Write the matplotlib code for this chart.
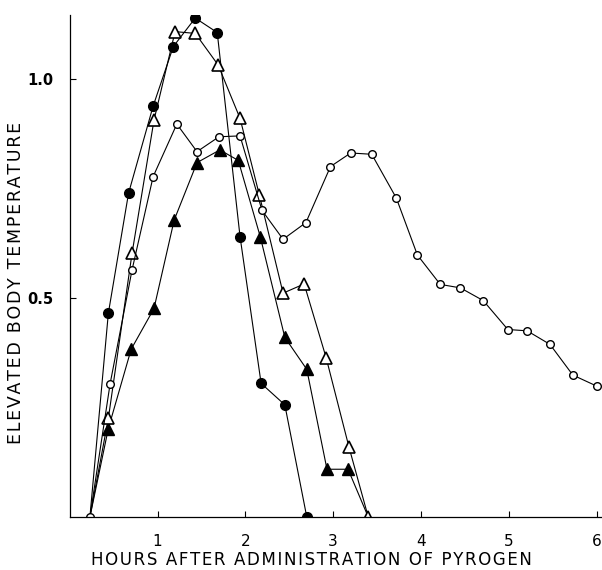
import matplotlib
matplotlib.use("Agg")
import matplotlib.pyplot as plt

# readings (hours, elevated temperature)
fc_x = [0.23, 0.44, 0.67, 0.95, 1.18, 1.43, 1.68, 1.94, 2.18, 2.45, 2.70]
fc_y = [0.0, 0.465, 0.739, 0.938, 1.074, 1.139, 1.106, 0.640, 0.305, 0.256, 0.0]

ot_x = [0.23, 0.44, 0.71, 0.96, 1.20, 1.43, 1.69, 1.94, 2.16, 2.43, 2.67, 2.92, 3.18, 3.40]
ot_y = [0.0, 0.225, 0.602, 0.906, 1.108, 1.104, 1.032, 0.910, 0.735, 0.511, 0.532, 0.364, 0.160, 0.0]

oc_x = [0.23, 0.46, 0.71, 0.95, 1.22, 1.45, 1.70, 1.94, 2.19, 2.43, 2.69, 2.97, 3.20, 3.44,
        3.72, 3.96, 4.22, 4.45, 4.71, 4.99, 5.21, 5.47, 5.73, 6.00]
oc_y = [0.0, 0.304, 0.564, 0.777, 0.897, 0.834, 0.868, 0.870, 0.700, 0.634, 0.672, 0.800,
        0.831, 0.828, 0.728, 0.598, 0.531, 0.523, 0.494, 0.428, 0.425, 0.394, 0.324, 0.299]

ft_x = [0.23, 0.44, 0.70, 0.96, 1.19, 1.45, 1.71, 1.92, 2.17, 2.45, 2.70, 2.93, 3.17, 3.40]
ft_y = [0.0, 0.202, 0.383, 0.476, 0.678, 0.809, 0.838, 0.814, 0.640, 0.410, 0.337, 0.109, 0.109, 0.0]

xlabel = 'HOURS AFTER ADMINISTRATION OF PYROGEN'
ylabel = 'ELEVATED BODY TEMPERATURE'

def spaced(s):
    # the old typesetting is tracked out, hair spaces get close
    return '\u200a'.join(s)

fig = plt.figure(figsize=(6.02, 5.70), dpi=100)
ax = fig.add_axes([0.1158, 0.093, 0.8824, 0.8807])

lw = 0.8
# lines first, markers skip the shared start point (drawn as open circle)
ax.plot(ft_x, ft_y, color='k', lw=lw, marker='^', ms=8, mfc='k', mec='k',
        markevery=list(range(1, len(ft_x) - 1)))
ax.plot(fc_x, fc_y, color='k', lw=lw, marker='o', ms=7, mfc='k', mec='k',
        markevery=list(range(1, len(fc_x))))
ax.plot(ot_x, ot_y, color='k', lw=lw, marker='^', ms=8.5, mfc='white', mec='k', mew=1.2,
        markevery=list(range(1, len(ot_x))))
ax.plot(oc_x, oc_y, color='k', lw=lw, marker='o', ms=5.5, mfc='white', mec='k', mew=1.0)

ax.set_xlim(0, 6.05)
ax.set_ylim(0, 1.146)
ax.set_xticks([1, 2, 3, 4, 5, 6])
ax.set_xticklabels(['1', '2', '3', '4', '5', '6'])
ax.set_yticks([0.5, 1.0])
ax.set_yticklabels(['0.5', '1.0'], fontweight='bold')
ax.tick_params(axis='x', direction='in', length=4, width=0.8, pad=12, labelsize=11)
ax.tick_params(axis='y', direction='in', length=4, width=0.8, pad=12, labelsize=10.5)

for s in ['top', 'right']:
    ax.spines[s].set_visible(False)
for s in ['left', 'bottom']:
    ax.spines[s].set_linewidth(0.9)

ax.text(0.455, -0.0956, spaced(xlabel), transform=ax.transAxes,
        ha='center', va='baseline', fontsize=12)
ax.text(-0.1005, 0.466, spaced(ylabel), transform=ax.transAxes,
        ha='center', va='center', rotation=90, fontsize=12.5)

fig.savefig('out.png', dpi=100)
